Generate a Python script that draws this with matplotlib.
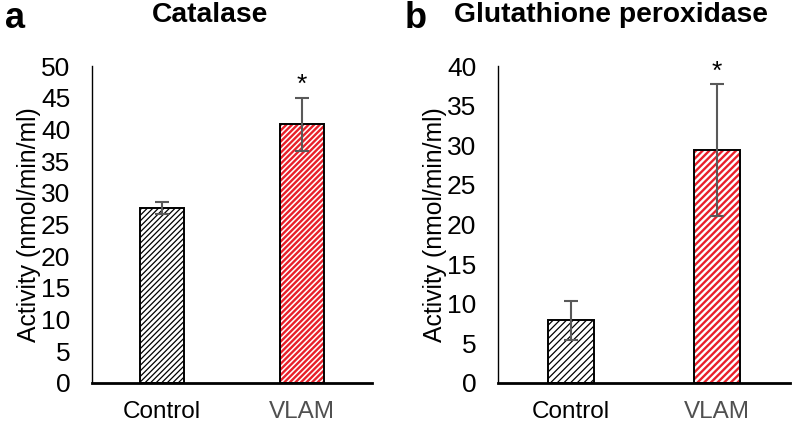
import matplotlib.pyplot as plt

plt.rcParams['font.family'] = ['Liberation Sans', 'DejaVu Sans']

groups = ['Control', 'VLAM']
catalase = [27.6, 40.8]
catalase_err = [1.0, 4.2]
gpx = [7.9, 29.4]
gpx_err = [2.5, 8.3]

fig = plt.figure(figsize=(7.92, 4.28), dpi=100)
ax_a = fig.add_axes([92/792, 45/428, 280/792, 317/428])
ax_b = fig.add_axes([498/792, 45/428, 292/792, 317/428])


def panel(ax, vals, errs, ymax, step, hatch_dense):
    x = [0, 1]
    fills = ['black', '#e8202a']
    for i in x:
        b = ax.bar(i, vals[i], width=0.31, color='white', edgecolor=fills[i],
                   linewidth=0, hatch=hatch_dense, zorder=2)
        for p in b:
            if hasattr(p, 'set_hatch_linewidth'):
                p.set_hatch_linewidth(0.9 if i == 0 else 1.7)
        ax.bar(i, vals[i], width=0.31, color='none', edgecolor='black',
               linewidth=1.4, zorder=3)
    ax.errorbar(x, vals, yerr=errs, fmt='none', ecolor='#595959',
                elinewidth=1.5, capsize=5, capthick=1.5, zorder=4)
    # significance mark on VLAM
    ax.text(1, vals[1] + errs[1] + ymax * 0.04, '*', ha='center', va='center',
            fontsize=19)
    ax.set_xlim(-0.5, 1.5)
    ax.set_ylim(0, ymax)
    ax.set_yticks(range(0, ymax + 1, step))
    ax.set_xticks(x)
    ax.set_xticklabels(groups)
    ax.get_xticklabels()[1].set_color('#505050')
    ax.tick_params(axis='y', length=0, pad=15.5, labelsize=19)
    ax.tick_params(axis='x', length=0, pad=13, labelsize=17.5)
    for s in ['top', 'right']:
        ax.spines[s].set_visible(False)
    ax.spines['left'].set_linewidth(1.0)
    ax.spines['bottom'].set_linewidth(2.0)
    ax.set_ylabel('Activity (nmol/min/ml)', fontsize=17.8, labelpad=0)


panel(ax_a, catalase, catalase_err, 50, 5, '//////')
panel(ax_b, gpx, gpx_err, 40, 5, '/////')

fig.text(15/792, 1 - 18/428, 'a', fontsize=26, fontweight='bold', ha='center', va='center')
fig.text(210/792, 1 - 15/428, 'Catalase', fontsize=20.3, fontweight='bold', ha='center', va='center')
fig.text(416/792, 1 - 18/428, 'b', fontsize=26, fontweight='bold', ha='center', va='center')
fig.text(611/792, 1 - 15/428, 'Glutathione peroxidase', fontsize=20.3, fontweight='bold', ha='center', va='center')

fig.savefig('out.png', dpi=100)
